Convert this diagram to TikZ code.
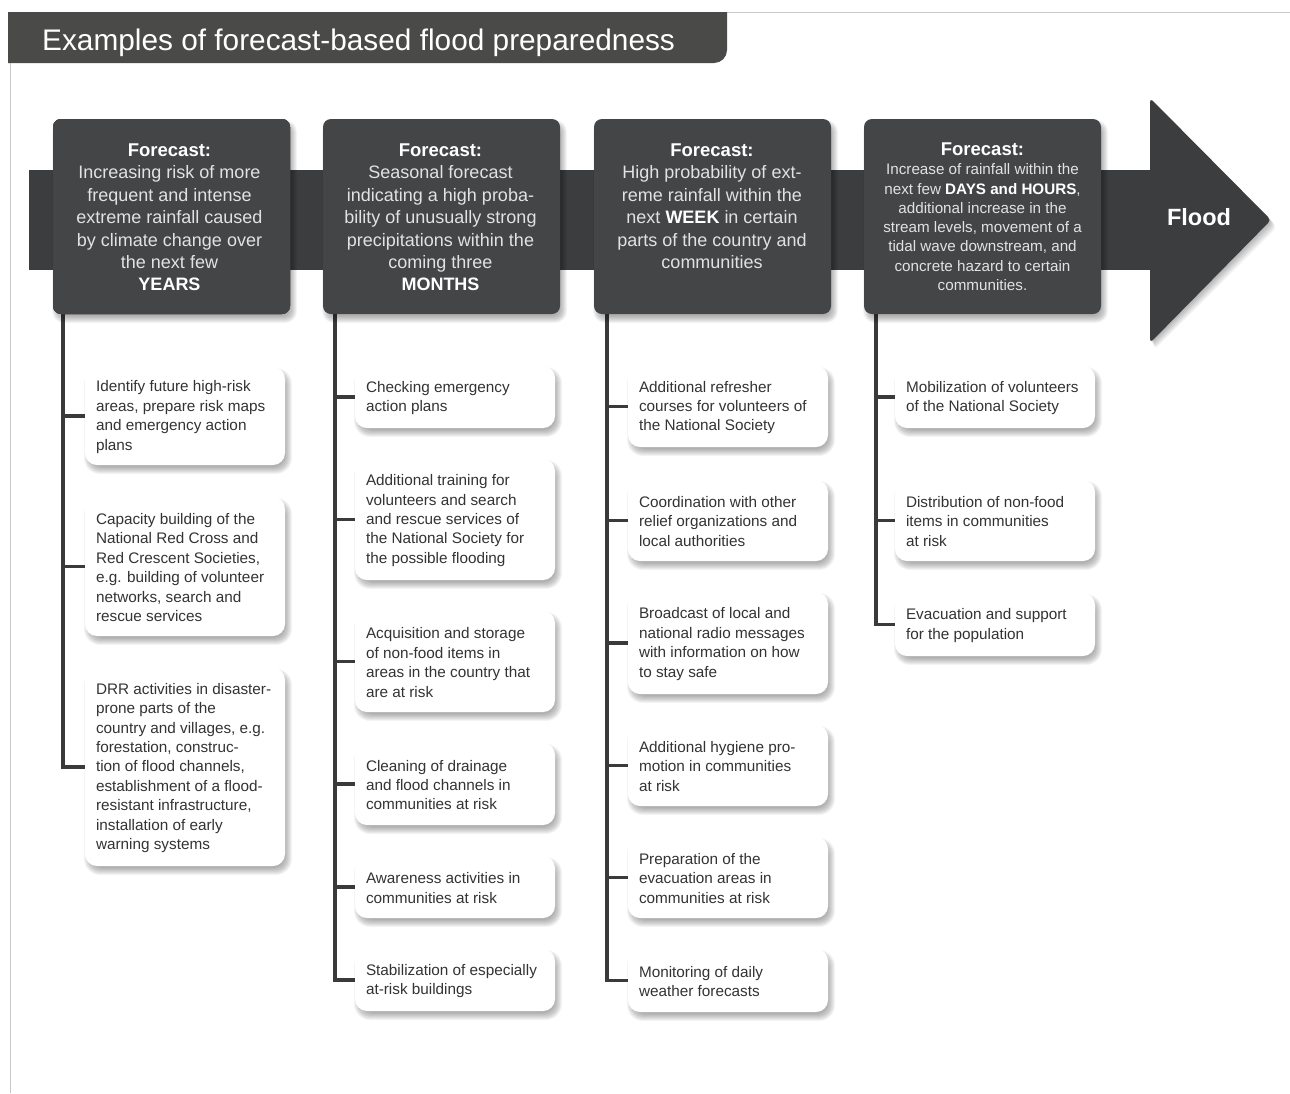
\documentclass[tikz,border=0pt]{standalone}
\usepackage{fontspec}
\setmainfont{Liberation Sans}

\definecolor{titlebar}{HTML}{4A4A49}
\definecolor{bandgrey}{HTML}{3C3D3F}
\definecolor{boxgrey}{HTML}{444547}
\definecolor{linegrey}{HTML}{3A3A3A}
\definecolor{framegrey}{HTML}{C8C8C8}
\definecolor{bodytext}{HTML}{333333}
\definecolor{lighttext}{HTML}{E2E2E2}

\tikzset{
  topbox/.style={fill=boxgrey, rounded corners=8pt, minimum width=237pt,
      minimum height=195pt, inner sep=0pt},
  toptext/.style={anchor=north, inner sep=0pt, align=center, text=lighttext,
      font=\fontsize{18}{22.4}\selectfont},
  toptextsmall/.style={toptext, font=\fontsize{15.2}{19.3}\selectfont},
  card/.style={fill=white, rounded corners=12pt, minimum width=200pt,
      inner sep=0pt},
  cardtext/.style={anchor=west, inner sep=0pt, align=left, text=bodytext,
      font=\fontsize{15.3}{19.4}\selectfont},
  conn/.style={draw=linegrey, line width=3.8pt, line join=miter},
  shadelayer/.style={fill=black, fill opacity=0.045},
}

% soft drop shadow under a rounded box: x0, y0, x1, y1, corner radius
\newcommand\softshade[5]{%
  \foreach \e in {-3,...,4}{%
    \pgfmathsetmacro\rr{#5+max(\e,0)}%
    \fill[shadelayer, rounded corners=\rr pt]
      ({#1+3-\e},{#2+5-\e}) rectangle ({#3+3+\e},{#4+5+\e});
  }%
}

% one white action card: name, left x, top y, bottom y, text
\newcommand\cardnode[5]{%
  \softshade{#2}{#3}{#2+200}{#4}{12}%
  \node[card, minimum height={(#4-#3)*1pt}] (#1) at ({#2+100},{(#3+#4)/2}) {};
  \node[cardtext] (#1t) at ([xshift=11pt,yshift=-1pt]#1.west) {#5};
}
\newcommand\fc{{\color{white}\bfseries\fontsize{18.5}{19}\selectfont Forecast:}}
\newcommand\hl[1]{{\color{white}\bfseries #1}}

\begin{document}
\begin{tikzpicture}[x=1pt, y=-1pt]
\useasboundingbox (0,0) rectangle (1290,1093);
\fill[white] (0,0) rectangle (1290,1093);

% page frame
\draw[framegrey, line width=1pt] (8,12) -- (1290,12);
\draw[framegrey, line width=1pt] (10,12) -- (10,1093);

% title bar with rounded lower right corner
\begin{scope}
  \clip (8,12) rectangle (1290,120);
  \fill[titlebar, rounded corners=13pt] (-30,-30) rectangle (727,63);
\end{scope}
\node[anchor=base west, inner sep=0pt, text=white,
      font=\fontsize{29.8}{32}\selectfont] (title) at (42,50)
      {Examples of forecast-based flood preparedness};

% time arrow
\foreach \d in {1,...,7}
  \fill[shadelayer, rounded corners=5pt]
    ({1150+\d*0.6},{98+\d}) -- ({1271+\d*0.9},{220+\d}) -- ({1150+\d*0.6},{343+\d}) -- cycle;
\fill[bandgrey] (29,170) rectangle (1153,270);
\fill[bandgrey, rounded corners=4pt]
  (1150,98) -- (1271,220) -- (1150,343) -- cycle;
\node[text=white, font=\bfseries\fontsize{23.5}{26}\selectfont] (flood) at (1199,217) {Flood};

% action cards, column 1
\cardnode{a1}{85}{367}{465}{Identify future high-risk\\areas, prepare risk maps\\and emergency action\\plans}
\cardnode{a2}{85}{497}{636}{Capacity building of the\\National Red Cross and\\Red Crescent Societies,\\e.g. building of volunteer\\networks, search and\\rescue services}
\cardnode{a3}{85}{668}{866}{DRR activities in disaster-\\prone parts of the\\country and villages, e.g.\\forestation, construc-\\tion of flood channels,\\establishment of a flood-\\resistant infrastructure,\\installation of early\\warning systems}

% column 2
\cardnode{b1}{355}{366}{428}{Checking emergency\\action plans}
\cardnode{b2}{355}{459}{580}{Additional training for\\volunteers and search\\and rescue services of\\the National Society for\\the possible flooding}
\cardnode{b3}{355}{611}{712}{Acquisition and storage\\of non-food items in\\areas in the country that\\are at risk}
\cardnode{b4}{355}{743}{825}{Cleaning of drainage\\and flood channels in\\communities at risk}
\cardnode{b5}{355}{856}{918}{Awareness activities in\\communities at risk}
\cardnode{b6}{355}{949}{1011}{Stabilization of especially\\at-risk buildings}

% column 3
\cardnode{c1}{628}{366}{447}{Additional refresher\\courses for volunteers of\\the National Society}
\cardnode{c2}{628}{480}{561}{Coordination with other\\relief organizations and\\local authorities}
\cardnode{c3}{628}{592}{694}{Broadcast of local and\\national radio messages\\with information on how\\to stay safe}
\cardnode{c4}{628}{725}{806}{Additional hygiene pro-\\motion in communities\\at risk}
\cardnode{c5}{628}{837}{918}{Preparation of the\\evacuation areas in\\communities at risk}
\cardnode{c6}{628}{949}{1012}{Monitoring of daily\\weather forecasts}

% column 4
\cardnode{d1}{895}{366}{428}{Mobilization of volunteers\\of the National Society}
\cardnode{d2}{895}{480}{561}{Distribution of non-food\\items in communities\\at risk}
\cardnode{d3}{895}{593}{656}{Evacuation and support\\for the population}

% connectors from each forecast down to its actions
\coordinate (k1) at (63,300);
\coordinate (k2) at (335,300);
\coordinate (k3) at (607,300);
\coordinate (k4) at (876,300);
\foreach \c in {a1,a2,a3} \draw[conn] (k1) |- (\c.west);
\foreach \c in {b1,b2,b3,b4,b5,b6} \draw[conn] (k2) |- (\c.west);
\foreach \c in {c1,c2,c3,c4,c5,c6} \draw[conn] (k3) |- (\c.west);
\foreach \c in {d1,d2,d3} \draw[conn] (k4) |- (\c.west);

% forecast boxes
\foreach \x in {53,323,594,864} \softshade{\x}{119}{\x+237}{314}{8}
\node[topbox] (f1) at (171.5,216.5) {};
\node[topbox] (f2) at (441.5,216.5) {};
\node[topbox] (f3) at (712.5,216.5) {};
\node[topbox] (f4) at (982.5,216.5) {};

\node[toptext] (f1t) at (169.5,143.5)
  {\fc\\Increasing risk of more\\frequent and intense\\extreme rainfall caused\\by climate change over\\the next few\\\hl{YEARS}};
\node[toptext] (f2t) at (440.5,143.5)
  {\fc\\Seasonal forecast\\indicating a high proba-\\bility of unusually strong\\precipitations within the\\coming three\\\hl{MONTHS}};
\node[toptext] (f3t) at (712,143.5)
  {\fc\\High probability of ext-\\reme rainfall within the\\next \hl{WEEK} in certain\\parts of the country and\\communities};
\node[toptextsmall] (f4t) at (982.5,142.5)
  {\fc\\Increase of rainfall within the\\next few \hl{DAYS and HOURS},\\additional increase in the\\stream levels, movement of a\\tidal wave downstream, and\\concrete hazard to certain\\communities.};
\end{tikzpicture}
\end{document}
